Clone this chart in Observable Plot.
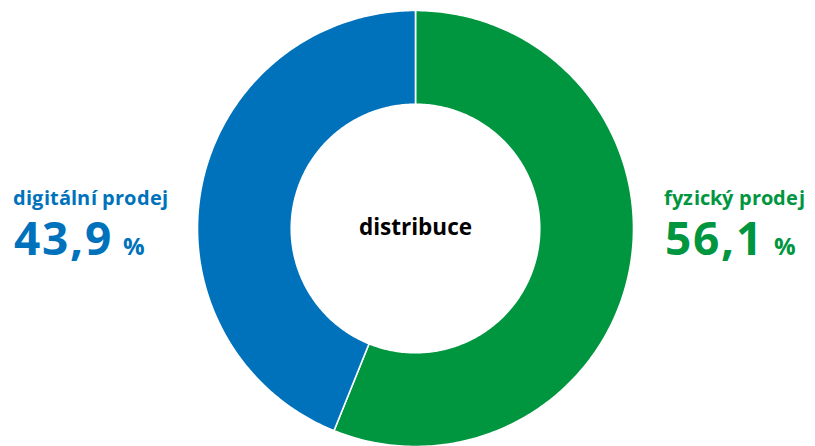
<!DOCTYPE html>
<html><head><meta charset="utf-8">
<script src="https://cdn.jsdelivr.net/npm/d3@7"></script>
<script src="https://cdn.jsdelivr.net/npm/@observablehq/plot@0.6"></script>
<style>
@font-face{font-family:"OSTight";src:local("Open Sans Bold"),local("OpenSans-Bold"),local("Open Sans");font-weight:700;ascent-override:78%;descent-override:18%;line-gap-override:0%;}
html,body{margin:0;padding:0;background:#fff;}
#wrap{position:relative;width:815px;height:446px;overflow:hidden;font-family:"OSTight","Open Sans",sans-serif;}
.lab{position:absolute;font-weight:700;white-space:nowrap;line-height:1;}
.cat{font-size:20px;letter-spacing:0.2px;}
.val{font-size:46px;letter-spacing:2px;}
.pct{font-size:24px;margin-left:10px;letter-spacing:0;}
</style></head>
<body><div id="wrap"></div>
<script>
const categories = ["fyzický prodej", "digitální prodej"];
const shares = [56.1, 43.9];
const valueLabels = ["56,1", "43,9"];
const colors = ["#00963F", "#0072BC"];
const centerLabel = "distribuce";

const innerRatio = 0.57;
const pie = d3.pie().sort(null).value(d => d.share)(categories.map((c, i) => ({name: c, share: shares[i]})));
const pts = [];
for (const s of pie) {
  const n = 240;
  for (let k = 0; k <= n; k++) {
    const a = s.startAngle + (s.endAngle - s.startAngle) * k / n;
    pts.push({name: s.data.name, x: Math.sin(a), y: Math.cos(a)});
  }
  for (let k = n; k >= 0; k--) {
    const a = s.startAngle + (s.endAngle - s.startAngle) * k / n;
    pts.push({name: s.data.name, x: innerRatio * Math.sin(a), y: innerRatio * Math.cos(a)});
  }
}

const chart = Plot.plot({
  width: 815, height: 446,
  marginLeft: 197, marginRight: 182, marginTop: 10, marginBottom: 0,
  x: {domain: [-1, 1], axis: null},
  y: {domain: [-1, 1], axis: null},
  color: {domain: categories, range: colors},
  style: {background: "transparent"},
  marks: [
    Plot.line(pts, {x: "x", y: "y", z: "name", fill: "name", stroke: "white", strokeWidth: 1.6, curve: "linear-closed"}),
    Plot.text([centerLabel], {x: 0, y: 0, text: d => d, fontSize: 22.5, fontWeight: 700, fill: "#000", fontFamily: "Open Sans", dy: -1})
  ]
});
const wrap = document.getElementById("wrap");
chart.style.position = "absolute"; chart.style.left = "0"; chart.style.top = "0";
wrap.appendChild(chart);

function addLabel(i, left, catTop, valTop) {
  const c = document.createElement("div");
  c.className = "lab cat"; c.style.color = colors[i]; c.textContent = categories[i];
  c.style.top = catTop + "px";
  const v = document.createElement("div");
  v.className = "lab val"; v.style.color = colors[i];
  v.innerHTML = valueLabels[i] + '<span class="pct">%</span>';
  v.style.top = valTop + "px";
  c.style.left = left + "px"; v.style.left = (left + 1) + "px";
  wrap.appendChild(c); wrap.appendChild(v);
}
const probe = document.createElement("span");
probe.style.cssText = "position:absolute;visibility:hidden;font-family:OSTight;font-weight:700;font-size:100px;line-height:normal";
probe.textContent = "x"; wrap.appendChild(probe);
const tight = probe.getBoundingClientRect().height < 110;
probe.remove();
const asc = tight ? 0.78 : 1.069, desc = tight ? 0.18 : 0.293;
const off = s => (asc - (asc + desc - 1) / 2) * s;
const catTop = 205 - off(20), valTop = 255 - off(46);
addLabel(1, 13, catTop, valTop);
addLabel(0, 664, catTop, valTop);
</script></body></html>
